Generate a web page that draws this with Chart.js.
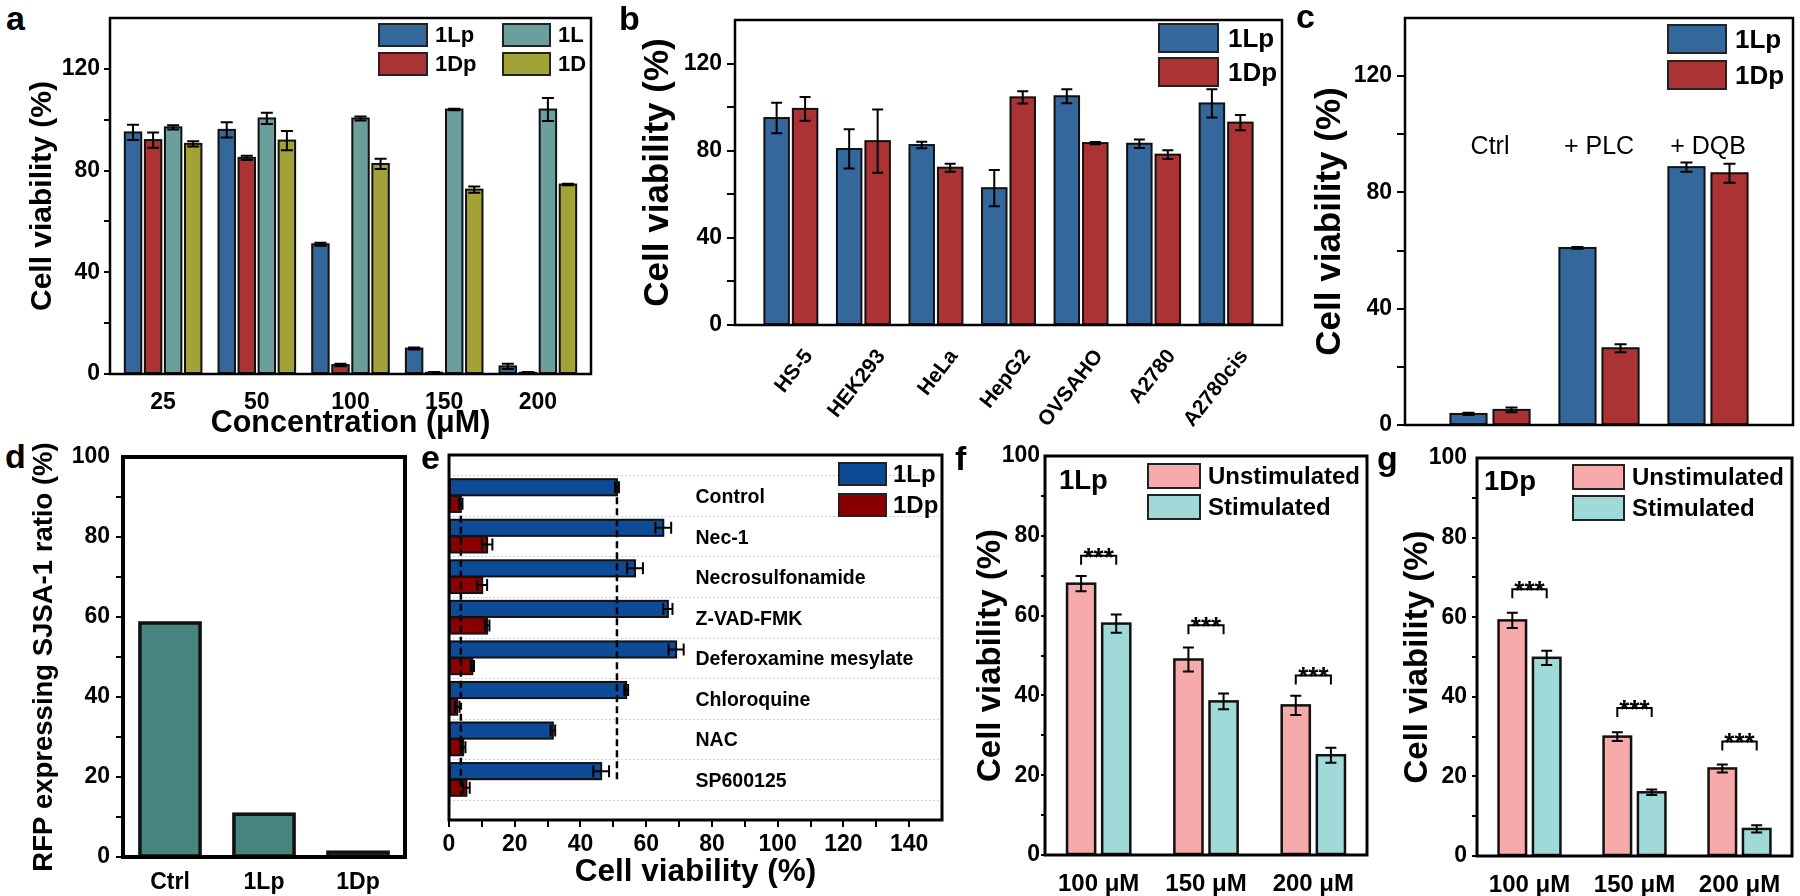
<!DOCTYPE html>
<html>
<head>
<meta charset="utf-8">
<script src="https://cdn.jsdelivr.net/npm/chart.js@4.4.1/dist/chart.umd.min.js"></script>
<style>
  body { margin: 0; width: 1800px; height: 896px; background: #fff; position: relative; overflow: hidden;
         font-family: "Liberation Sans", Arial, sans-serif; color: #000; }
  .pan { position: absolute; }
  .pan canvas { display: block; }
  .lbl { position: absolute; font-weight: bold; white-space: nowrap; line-height: 1; }
  .lg { position: absolute; display: flex; align-items: center; font-weight: bold; white-space: nowrap; }
  .lg i { display: block; box-sizing: border-box; border: 2.5px solid #222; }
  .lg span { line-height: 1; }
</style>
</head>
<body>
<script>
// ---- data: panel a ----
const CONC = ['25', '50', '100', '150', '200'];
const A_1LP = [95, 96, 51, 10, 3];
const A_1LP_ERR = [3, 3, 0.6, 0.4, 1];
const A_1DP = [92, 85, 3.5, 0.5, 0.5];
const A_1DP_ERR = [3, 0.8, 0.5, 0.3, 0.3];
const A_1L = [97, 100.5, 100.5, 104, 104];
const A_1L_ERR = [0.8, 2.2, 0.8, 0.3, 4.5];
const A_1D = [90.5, 91.8, 82.6, 72.5, 74.5];
const A_1D_ERR = [1, 3.8, 2, 1.2, 0.3];

// ---- panel b ----
const CELLS = ['HS-5', 'HEK293', 'HeLa', 'HepG2', 'OVSAHO', 'A2780', 'A2780cis'];
const B_1LP = [95, 80.8, 82.6, 62.8, 105, 83.2, 101.7];
const B_1LP_ERR = [7, 9, 1.5, 8.3, 3.2, 2, 6.5];
const B_1DP = [99.2, 84.4, 72.2, 104.5, 83.5, 78.2, 92.9];
const B_1DP_ERR = [5.5, 14.5, 1.8, 2.8, 0.5, 2, 3.5];

// ---- panel c ----
const COND = ['Ctrl', '+ PLC', '+ DQB'];
const C_1LP = [3.8, 60.9, 88.7];
const C_1LP_ERR = [0.4, 0.3, 1.6];
const C_1DP = [5.2, 26.4, 86.6];
const C_1DP_ERR = [0.8, 1.4, 3.3];

// ---- panel d ----
const D_GROUPS = ['Ctrl', '1Lp', '1Dp'];
const D_RFP = [58.5, 10.7, 1.2];

// ---- panel e ----
const INHIB = ['Control', 'Nec-1', 'Necrosulfonamide', 'Z-VAD-FMK', 'Deferoxamine mesylate', 'Chloroquine', 'NAC', 'SP600125'];
const E_1LP = [51.1, 65.2, 56.6, 66.6, 69.1, 53.9, 31.6, 46.3];
const E_1LP_ERR = [0.6, 2.4, 2.4, 1.4, 2.3, 0.6, 0.7, 2.4];
const E_1DP = [3.6, 11.6, 10.1, 11.6, 7.1, 2.5, 4.3, 5.3];
const E_1DP_ERR = [0.5, 1.6, 1.5, 0.7, 0.5, 0.7, 0.7, 1];

// ---- panels f, g ----
const DOSE = ['100 μM', '150 μM', '200 μM'];
const F_UNSTIM = [68, 49, 37.5];
const F_UNSTIM_ERR = [1.9, 3, 2.4];
const F_STIM = [58, 38.5, 25];
const F_STIM_ERR = [2.3, 2, 1.9];
const F_SIG = [75, 57.6, 45];
const G_UNSTIM = [59.2, 30, 22];
const G_UNSTIM_ERR = [1.9, 1.1, 1];
const G_STIM = [49.8, 16, 6.8];
const G_STIM_ERR = [1.8, 0.7, 0.9];
const G_SIG = [67, 37.2, 28.8];

const BLUE = '#34679C', RED = '#AB3333', TEAL = '#6A9F9C', OLIVE = '#A3A236';
const E_BLUE = '#0D4B97', E_RED = '#8A0000';
const PINK = '#F6AAAA', AQUA = '#A0DAD8', D_TEAL = '#46857F';

const FONT = '"Liberation Sans", Arial, sans-serif';
Chart.defaults.font.family = FONT;
Chart.defaults.color = '#000';
Chart.defaults.animation = false;
Chart.defaults.plugins.legend.display = false;
Chart.defaults.plugins.tooltip.enabled = false;

function makePanel(L, T, W, H) {
  const d = document.createElement('div');
  d.className = 'pan';
  d.style.cssText = `left:${L}px;top:${T}px;width:${W}px;height:${H}px`;
  const c = document.createElement('canvas');
  d.appendChild(c);
  document.body.appendChild(d);
  return c;
}

// plugins
const framePlugin = w => ({
  id: 'frame',
  afterDraw(chart) {
    const { ctx, chartArea: a } = chart;
    ctx.save();
    ctx.lineWidth = w;
    ctx.strokeStyle = '#000';
    ctx.strokeRect(a.left, a.top, a.right - a.left, a.bottom - a.top);
    ctx.restore();
  }
});

// black outline round every bar
const outlinePlugin = {
  id: 'outline',
  afterDatasetsDraw(chart) {
    const ctx = chart.ctx;
    ctx.save();
    ctx.strokeStyle = '#111';
    chart.data.datasets.forEach((ds, i) => {
      ctx.lineWidth = ds.ow || 2;
      chart.getDatasetMeta(i).data.forEach(bar => {
        const p = bar.getProps(['x', 'y', 'base', 'width', 'height', 'horizontal'], true);
        let l, r, t, b;
        if (p.horizontal) {
          l = Math.min(p.x, p.base); r = Math.max(p.x, p.base);
          t = p.y - p.height / 2; b = p.y + p.height / 2;
        } else {
          l = p.x - p.width / 2; r = p.x + p.width / 2;
          t = Math.min(p.y, p.base); b = Math.max(p.y, p.base);
        }
        ctx.strokeRect(l, t, r - l, b - t);
      });
    });
    ctx.restore();
  }
};

const errorPlugin = (cap, lw) => ({
  id: 'errs',
  afterDatasetsDraw(chart) {
    const ctx = chart.ctx;
    const hor = chart.options.indexAxis === 'y';
    const vs = hor ? chart.scales.x : chart.scales.y;
    ctx.save();
    ctx.strokeStyle = '#000';
    ctx.lineWidth = lw;
    chart.data.datasets.forEach((ds, i) => {
      if (!ds.errors) return;
      chart.getDatasetMeta(i).data.forEach((bar, j) => {
        const d = ds.data[j];
        const v = typeof d === 'object' ? (hor ? d.x : d.y) : d;
        const e = ds.errors[j];
        const p1 = vs.getPixelForValue(v - e), p2 = vs.getPixelForValue(v + e);
        const c = hor ? bar.y : bar.x, h = cap / 2;
        ctx.beginPath();
        if (hor) {
          ctx.moveTo(p1, c); ctx.lineTo(p2, c);
          ctx.moveTo(p1, c - h); ctx.lineTo(p1, c + h);
          ctx.moveTo(p2, c - h); ctx.lineTo(p2, c + h);
        } else {
          ctx.moveTo(c, p1); ctx.lineTo(c, p2);
          ctx.moveTo(c - h, p1); ctx.lineTo(c + h, p1);
          ctx.moveTo(c - h, p2); ctx.lineTo(c + h, p2);
        }
        ctx.stroke();
      });
    });
    ctx.restore();
  }
});

const textPlugin = (labels, place, font, align) => ({
  id: 'txt',
  afterDatasetsDraw(chart) {
    const ctx = chart.ctx;
    ctx.save();
    ctx.font = font;
    ctx.fillStyle = '#000';
    ctx.textAlign = align;
    ctx.textBaseline = 'middle';
    labels.forEach((t, i) => {
      const [x, y] = place(chart, i);
      ctx.fillText(t, x, y);
    });
    ctx.restore();
  }
});

const bracketPlugin = (tops, leg) => ({
  id: 'sig',
  afterDatasetsDraw(chart) {
    const ctx = chart.ctx, y = chart.scales.y;
    const m0 = chart.getDatasetMeta(0), m1 = chart.getDatasetMeta(1);
    ctx.save();
    ctx.lineWidth = 2;
    ctx.strokeStyle = '#000';
    ctx.fillStyle = '#000';
    ctx.font = 'bold 26px ' + FONT;
    ctx.textAlign = 'center';
    tops.forEach((t, i) => {
      const x1 = m0.data[i].x, x2 = m1.data[i].x, yt = y.getPixelForValue(t);
      ctx.beginPath();
      ctx.moveTo(x1, yt + leg); ctx.lineTo(x1, yt); ctx.lineTo(x2, yt); ctx.lineTo(x2, yt + leg);
      ctx.stroke();
      ctx.fillText('***', (x1 + x2) / 2, yt + 10);
    });
    ctx.restore();
  }
});

// axes
function yAxis(o) {
  return {
    type: 'linear', min: 0, max: o.max,
    afterFit: s => { s.width = o.w; },
    border: { display: false },
    grid: {
      drawOnChartArea: false, tickLength: o.tl, lineWidth: 2,
      color: c => (c.tick && c.tick.value === o.max) ? 'rgba(0,0,0,0)' : '#000'
    },
    ticks: {
      stepSize: o.step, padding: o.pad, maxTicksLimit: 20,
      font: { size: 23, weight: 'bold', lineHeight: 1 },
      callback: v => (v % o.major === 0 ? v : '')
    },
    title: { display: true, text: o.title, padding: 0, font: { size: o.ts, weight: 'bold', lineHeight: 1 } }
  };
}

function xIndex(names, pad, o) {
  return {
    type: 'linear', min: -pad, max: names.length - 1 + pad, offset: false,
    afterBuildTicks: s => { s.ticks = names.map((_, i) => ({ value: i })); },
    afterFit: s => { s.height = o.h; },
    border: { display: false },
    grid: { display: false, offset: false },
    ticks: {
      display: o.show !== false, autoSkip: false,
      maxRotation: o.rot || 0, minRotation: o.rot || 0,
      padding: o.pad || 0, labelOffset: o.lo || 0,
      font: o.font || { size: 23, weight: 'bold', lineHeight: 1 },
      callback: v => names[v]
    },
    title: o.title
      ? { display: true, text: o.title, padding: 0, font: { size: o.ts, weight: 'bold', lineHeight: 1 } }
      : { display: false }
  };
}

function xCat(h, pad, fs) {
  return {
    type: 'category',
    afterFit: s => { s.height = h; },
    border: { display: false },
    grid: { display: false },
    ticks: { padding: pad, maxRotation: 0, font: { size: fs, weight: 'bold', lineHeight: 1 } }
  };
}

const pts = vals => vals.map((v, i) => ({ x: i, y: v }));
const barDs = (label, data, errors, color, bw) => ({
  label, data, errors, ow: bw, backgroundColor: color, borderWidth: 0
});

// ---- a ----
new Chart(makePanel(28, 0, 572, 439), {
  type: 'bar',
  data: { datasets: [
    barDs('1Lp', pts(A_1LP), A_1LP_ERR, BLUE, 2),
    barDs('1Dp', pts(A_1DP), A_1DP_ERR, RED, 2),
    barDs('1L', pts(A_1L), A_1L_ERR, TEAL, 2),
    barDs('1D', pts(A_1D), A_1D_ERR, OLIVE, 2)
  ] },
  options: {
    responsive: true, maintainAspectRatio: false,
    layout: { padding: { top: 18, right: 9, left: 0, bottom: 0 } },
    datasets: { bar: { categoryPercentage: 0.856, barPercentage: 0.82 } },
    scales: {
      x: xIndex(CONC, 0.567, { h: 65, pad: 9, title: 'Concentration (μM)', ts: 30.5 }),
      y: yAxis({ max: 140, step: 20, major: 40, w: 82, tl: 6, pad: 4, title: 'Cell viability (%)', ts: 30 })
    }
  },
  plugins: [outlinePlugin, errorPlugin(12, 2), framePlugin(2.5)]
});

// ---- b ----
new Chart(makePanel(641, 0, 655, 430), {
  type: 'bar',
  data: { datasets: [
    barDs('1Lp', pts(B_1LP), B_1LP_ERR, BLUE, 2),
    barDs('1Dp', pts(B_1DP), B_1DP_ERR, RED, 2)
  ] },
  options: {
    responsive: true, maintainAspectRatio: false,
    layout: { padding: { top: 20, right: 14, left: 0, bottom: 0 } },
    datasets: { bar: { categoryPercentage: 0.785, barPercentage: 0.86 } },
    scales: {
      x: xIndex(CELLS, 0.77, { h: 105, pad: 13, rot: 52, lo: 18, font: { size: 21, weight: 'bold', lineHeight: 1 } }),
      y: yAxis({ max: 140, step: 20, major: 40, w: 94, tl: 8, pad: 5, title: 'Cell viability (%)', ts: 35 })
    }
  },
  plugins: [outlinePlugin, errorPlugin(11, 2), framePlugin(2.5)]
});

// ---- c ----
new Chart(makePanel(1313, 0, 487, 445), {
  type: 'bar',
  data: { datasets: [
    barDs('1Lp', pts(C_1LP), C_1LP_ERR, BLUE, 2),
    barDs('1Dp', pts(C_1DP), C_1DP_ERR, RED, 2)
  ] },
  options: {
    responsive: true, maintainAspectRatio: false,
    layout: { padding: { top: 18, right: 7, left: 0, bottom: 0 } },
    datasets: { bar: { categoryPercentage: 0.79, barPercentage: 0.84 } },
    scales: {
      x: xIndex(COND, 0.78, { h: 20, show: false }),
      y: yAxis({ max: 140, step: 20, major: 40, w: 92, tl: 8, pad: 5, title: 'Cell viability (%)', ts: 35 })
    }
  },
  plugins: [
    outlinePlugin,
    errorPlugin(12, 2),
    textPlugin(COND, (ch, i) => [ch.scales.x.getPixelForValue(i), ch.scales.y.getPixelForValue(95.5)], '25px ' + FONT, 'center'),
    framePlugin(2.5)
  ]
});

// ---- d ----
new Chart(makePanel(31, 439, 384, 457), {
  type: 'bar',
  data: { labels: D_GROUPS, datasets: [
    { data: D_RFP, backgroundColor: D_TEAL, borderWidth: 0, ow: 3.5 }
  ] },
  options: {
    responsive: true, maintainAspectRatio: false,
    layout: { padding: { top: 18, right: 10, left: 0, bottom: 0 } },
    datasets: { bar: { categoryPercentage: 1, barPercentage: 0.64 } },
    scales: {
      x: xCat(39, 6.5, 23),
      y: yAxis({ max: 100, step: 10, major: 20, w: 92, tl: 7, pad: 6, title: 'RFP expressing SJSA-1 ratio (%)', ts: 27.5 })
    }
  },
  plugins: [outlinePlugin, framePlugin(4)]
});

// ---- e ----
const eDecor = {
  id: 'edecor',
  beforeDatasetsDraw(chart) {
    const { ctx, chartArea: a } = chart, y = chart.scales.y;
    ctx.save();
    ctx.strokeStyle = '#d0d0d0';
    ctx.lineWidth = 1;
    ctx.setLineDash([2, 2]);
    for (let i = 0; i <= INHIB.length; i++) {
      const py = Math.round(y.getPixelForValue(i + 0.5)) + 0.5;
      ctx.beginPath(); ctx.moveTo(a.left, py); ctx.lineTo(a.right, py); ctx.stroke();
    }
    ctx.restore();
  },
  afterDatasetsDraw(chart) {
    const ctx = chart.ctx, x = chart.scales.x, y = chart.scales.y;
    ctx.save();
    ctx.strokeStyle = '#000';
    ctx.lineWidth = 2.5;
    ctx.setLineDash([7, 4]);
    [[E_1LP[0], 1.04, 8.03], [E_1DP[0], 1.5, 8.38]].forEach(([v, y1, y2]) => {
      const px = x.getPixelForValue(v);
      ctx.beginPath(); ctx.moveTo(px, y.getPixelForValue(y1)); ctx.lineTo(px, y.getPixelForValue(y2)); ctx.stroke();
    });
    ctx.restore();
  }
};

new Chart(makePanel(436, 440, 519, 448), {
  type: 'bar',
  data: { datasets: [
    { label: '1Lp', data: E_1LP.map((v, i) => ({ x: v, y: i + 1 })), errors: E_1LP_ERR,
      backgroundColor: E_BLUE, borderWidth: 0, ow: 2 },
    { label: '1Dp', data: E_1DP.map((v, i) => ({ x: v, y: i + 1 })), errors: E_1DP_ERR,
      backgroundColor: E_RED, borderWidth: 0, ow: 2 }
  ] },
  options: {
    indexAxis: 'y',
    responsive: true, maintainAspectRatio: false,
    layout: { padding: { top: 15, right: 13, left: 0, bottom: 0 } },
    datasets: { bar: { categoryPercentage: 0.82, barPercentage: 0.97 } },
    scales: {
      y: {
        type: 'linear', reverse: true, min: 0, max: 9, offset: false,
        afterFit: s => { s.width = 13; },
        border: { display: false }, grid: { display: false },
        ticks: { display: false, stepSize: 1 }
      },
      x: {
        type: 'linear', min: 0, max: 150,
        afterFit: s => { s.height = 68; },
        border: { display: false },
        grid: {
          drawOnChartArea: false, tickLength: 7, lineWidth: 2,
          color: c => (c.tick && c.tick.value === 150) ? 'rgba(0,0,0,0)' : '#000'
        },
        ticks: {
          stepSize: 10, maxTicksLimit: 20, padding: 6.5, autoSkip: false, maxRotation: 0, minRotation: 0,
          font: { size: 23, weight: 'bold', lineHeight: 1 },
          callback: v => (v % 20 === 0 && v < 150 ? v : '')
        },
        title: { display: true, text: 'Cell viability (%)', padding: 0, font: { size: 31.5, weight: 'bold', lineHeight: 1 } }
      }
    }
  },
  plugins: [
    eDecor,
    outlinePlugin,
    errorPlugin(12, 2),
    textPlugin(INHIB, (ch, i) => [ch.scales.x.getPixelForValue(75), ch.scales.y.getPixelForValue(i + 1.05)], 'bold 19.5px ' + FONT, 'left'),
    framePlugin(3)
  ]
});

// ---- f, g ----
function stimChart(canvas, un, unErr, st, stErr, sig, o) {
  return new Chart(canvas, {
    type: 'bar',
    data: { labels: DOSE, datasets: [
      barDs('Unstimulated', un, unErr, PINK, 2.5),
      barDs('Stimulated', st, stErr, AQUA, 2.5)
    ] },
    options: {
      responsive: true, maintainAspectRatio: false,
      layout: { padding: { top: o.top, right: 8, left: 0, bottom: 0 } },
      datasets: { bar: { categoryPercentage: 0.655, barPercentage: 0.8 } },
      scales: {
        x: xCat(o.h, 9, 24),
        y: yAxis({ max: 100, step: 10, major: 20, w: o.w, tl: o.tl, pad: o.pad, title: 'Cell viability (%)', ts: 33 })
      }
    },
    plugins: [outlinePlugin, errorPlugin(11, 2), bracketPlugin(sig, 9), framePlugin(3)]
  });
}
stimChart(makePanel(974, 440, 401, 456), F_UNSTIM, F_UNSTIM_ERR, F_STIM, F_STIM_ERR, F_SIG, { top: 16, h: 41, w: 71, tl: 4, pad: 1 });
stimChart(makePanel(1401, 440, 399, 456), G_UNSTIM, G_UNSTIM_ERR, G_STIM, G_STIM_ERR, G_SIG, { top: 18, h: 40, w: 76, tl: 5, pad: 5 });

// ---- HTML legends and labels ----
function legend(x, y, items, o) {
  items.forEach(([text, color], i) => {
    const row = document.createElement('div');
    row.className = 'lg';
    row.style.cssText = `left:${x}px;top:${y + i * (o.h + o.gap)}px;height:${o.h}px;font-size:${o.fs}px`;
    row.innerHTML = `<i style="width:${o.w}px;height:${o.h}px;background:${color}"></i><span style="margin-left:${o.tg}px">${text}</span>`;
    document.body.appendChild(row);
  });
}
function label(text, x, top, fs) {
  const d = document.createElement('div');
  d.className = 'lbl';
  d.style.cssText = `left:${x}px;top:${top}px;font-size:${fs}px`;
  d.textContent = text;
  document.body.appendChild(d);
}

legend(378, 23, [['1Lp', BLUE], ['1Dp', RED]], { w: 50, h: 24, gap: 5, fs: 22, tg: 7 });
legend(502, 23, [['1L', TEAL], ['1D', OLIVE]], { w: 49, h: 24, gap: 5, fs: 22, tg: 7 });
legend(1158, 23, [['1Lp', BLUE], ['1Dp', RED]], { w: 61, h: 30, gap: 4, fs: 26, tg: 9 });
legend(1667, 24, [['1Lp', BLUE], ['1Dp', RED]], { w: 60, h: 30, gap: 6, fs: 26, tg: 8 });
legend(838, 462, [['1Lp', E_BLUE], ['1Dp', E_RED]], { w: 49, h: 24, gap: 7, fs: 24, tg: 6 });
legend(1147, 463, [['Unstimulated', PINK], ['Stimulated', AQUA]], { w: 54, h: 26, gap: 5, fs: 24, tg: 7 });
legend(1572, 464, [['Unstimulated', PINK], ['Stimulated', AQUA]], { w: 53, h: 26, gap: 5, fs: 24, tg: 7 });

label('1Lp', 1059, 466, 27.5);
label('1Dp', 1484, 467, 27.5);

label('a', 6, 1, 34);
label('b', 619, 1, 34);
label('c', 1296, -1, 34);
label('d', 5, 439, 34);
label('e', 421, 440, 34);
label('f', 955, 441, 34);
label('g', 1377, 441, 34);
</script>
</body>
</html>
